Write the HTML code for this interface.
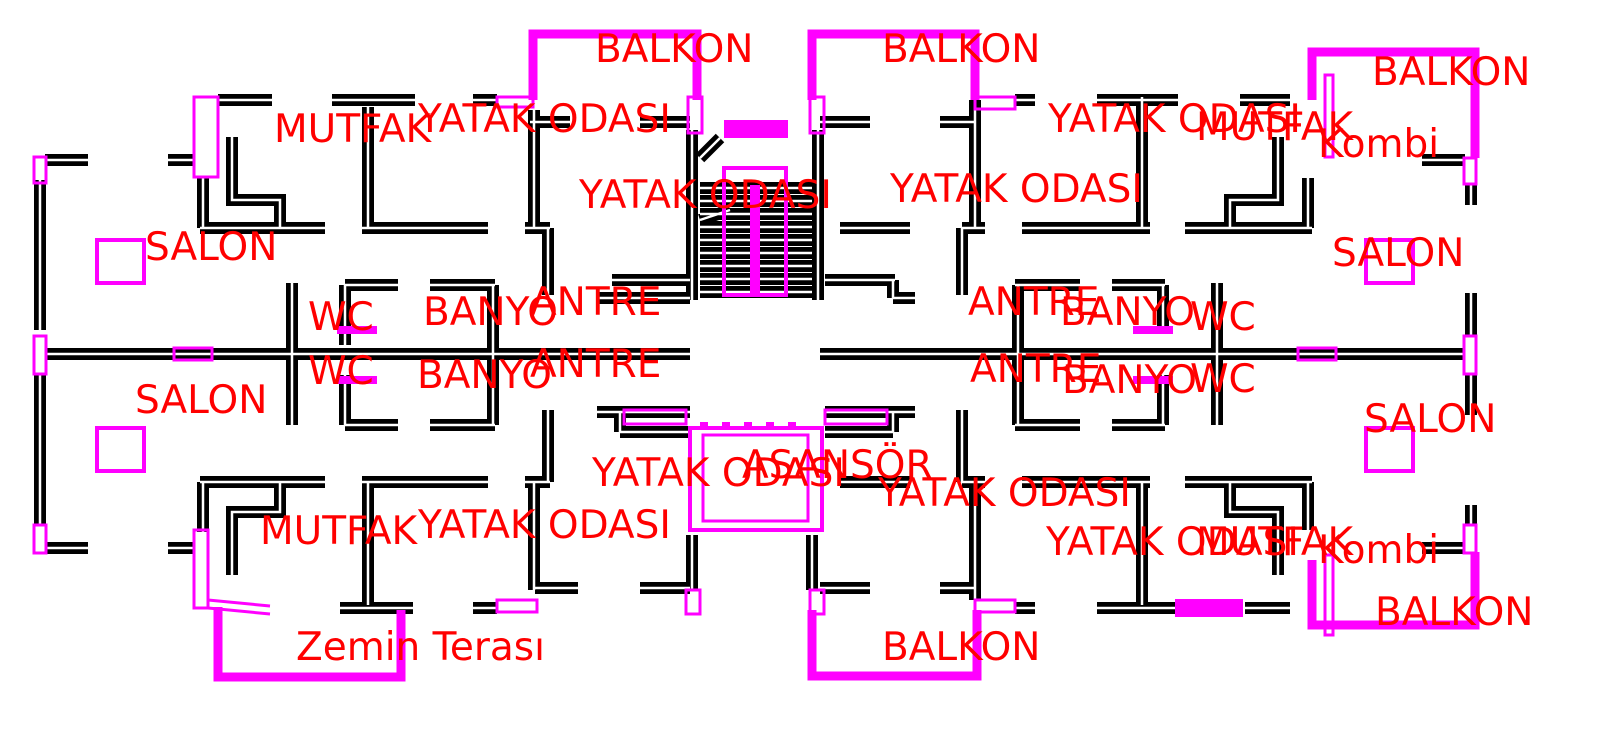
<!DOCTYPE html>
<html><head><meta charset="utf-8"><style>
html,body{margin:0;padding:0;background:#fff;}
svg{display:block;}
text{font-family:"DejaVu Sans","Liberation Sans",sans-serif;font-size:39px;fill:#ff0000;}
</style></head><body>
<svg width="1607" height="730" viewBox="0 0 1607 730">
<defs>
<path id="walls" fill="none" d="
M40,180V330 M40,375V525
M45,354H690 M820,354H1465
M200,228H325 M362,228H488 M525,228H550 M840,228H910 M962,228H985 M1022,228H1150 M1185,228H1312
M200,482H325 M362,482H488 M525,482H550 M840,482H910 M962,482H985 M1022,482H1150 M1185,482H1312
M292,283V425 M1217,283V425
M203,178V228 M203,482V532 M1308,178V228 M1308,482V530
M368,107V228 M368,482V605 M1142,97V228 M1142,482V605
M534,110V228 M534,482V590 M975,100V228 M975,482V600
M548,228V295 M548,410V482 M962,228V295 M962,410V482
M218,100H272 M332,100H415 M473,100H497 M1015,100H1035 M1097,100H1178 M1240,100H1290
M45,160H88 M168,160H195 M1422,160H1465
M45,548H88 M168,548H195 M1422,548H1465
M340,608H413 M473,608H497 M1015,608H1035 M1097,608H1175 M1245,608H1290
M345,285H398 M430,285H495 M345,285V345 M493,285V354 M345,425H398 M430,425H495 M345,375V425 M493,354V425
M1015,285H1080 M1112,285H1165 M1018,285V425 M1163,285V330 M1015,425H1080 M1112,425H1165 M1163,375V425
M612,280H690 M825,280H895 M893,280V298 M893,298H915 M597,298H690
M597,412H690 M620,412V432 M620,432H690 M825,412H915 M825,432H893 M893,412V432
M692,130V300 M818,130V300 M692,535V590 M812,535V590
M530,122H570 M640,122H690 M820,122H870 M940,122H975
M535,588H578 M640,588H690 M820,588H870 M940,588H975
M232,137V200H280V228 M232,575V512H280V482 M1278,137V200H1230V228 M1278,575V512H1230V482
M1471,185V205 M1471,293V335 M1471,375V415 M1471,505V525
M700,188H812 M700,201H812 M700,214H812 M700,227H812 M700,240H812 M700,253H812 M700,266H812 M700,279H812 M700,292H812
M700,158L720,138 M700,220L730,210"/>
</defs>
<g>
<use href="#walls" stroke="#000" stroke-width="12"/>
<use href="#walls" stroke="#fff" stroke-width="2.5"/>
</g>
<g fill="none" stroke="#ff00ff">
<path d="M533,100V34H697V100" stroke-width="9"/>
<path d="M812,100V34H975V100" stroke-width="9"/>
<path d="M1312,100V52H1475V158" stroke-width="9"/>
<path d="M812,610V676H977V610" stroke-width="9"/>
<path d="M218,607V677H401V610" stroke-width="9"/>
<path d="M1312,560V625H1475V552" stroke-width="9"/>
<rect x="97" y="240" width="47" height="43" stroke-width="4"/>
<rect x="97" y="428" width="47" height="43" stroke-width="4"/>
<rect x="1366" y="240" width="47" height="43" stroke-width="4"/>
<rect x="1366" y="428" width="47" height="43" stroke-width="4"/>
<rect x="690" y="428" width="132" height="102" stroke-width="4"/>
<rect x="703" y="435" width="105" height="86" stroke-width="3"/>
<rect x="724" y="168" width="62" height="127" stroke-width="4"/>
<line x1="755" y1="185" x2="755" y2="295" stroke-width="10"/>
<line x1="724" y1="129" x2="788" y2="129" stroke-width="18"/>
<line x1="1175" y1="608" x2="1243" y2="608" stroke-width="18"/>
<rect x="194" y="97" width="24" height="80" stroke-width="3"/>
<rect x="34" y="157" width="12" height="26" stroke-width="3"/>
<rect x="34" y="336" width="12" height="38" stroke-width="3"/>
<rect x="34" y="525" width="12" height="28" stroke-width="3"/>
<rect x="174" y="348" width="38" height="12" stroke-width="3"/>
<rect x="1298" y="348" width="38" height="12" stroke-width="3"/>
<rect x="1464" y="336" width="12" height="38" stroke-width="3"/>
<rect x="1464" y="158" width="12" height="26" stroke-width="3"/>
<rect x="1464" y="525" width="12" height="28" stroke-width="3"/>
<rect x="1325" y="75" width="8" height="82" stroke-width="3"/>
<rect x="1325" y="555" width="8" height="80" stroke-width="3"/>
<rect x="688" y="97" width="14" height="36" stroke-width="3"/>
<rect x="810" y="97" width="14" height="36" stroke-width="3"/>
<rect x="686" y="590" width="14" height="24" stroke-width="3"/>
<rect x="810" y="590" width="14" height="24" stroke-width="3"/>
<rect x="497" y="97" width="36" height="10" stroke-width="3"/>
<rect x="975" y="97" width="40" height="12" stroke-width="3"/>
<rect x="497" y="600" width="40" height="12" stroke-width="3"/>
<rect x="975" y="600" width="40" height="12" stroke-width="3"/>
<rect x="624" y="410" width="62" height="14" stroke-width="3"/>
<rect x="825" y="410" width="62" height="14" stroke-width="3"/>
<rect x="194" y="530" width="14" height="78" stroke-width="3"/>
<path d="M208,600L270,606M208,608L270,614" stroke-width="3"/>
<line x1="337" y1="330" x2="377" y2="330" stroke-width="8"/>
<line x1="337" y1="380" x2="377" y2="380" stroke-width="8"/>
<line x1="1133" y1="330" x2="1173" y2="330" stroke-width="8"/>
<line x1="1133" y1="380" x2="1173" y2="380" stroke-width="8"/>
<path d="M700,425H810" stroke-width="6" stroke-dasharray="8 14"/>
</g>
<g>
<text x="595" y="62">BALKON</text><text x="882" y="62">BALKON</text><text x="1372" y="85">BALKON</text>
<text x="882" y="660">BALKON</text><text x="1375" y="625">BALKON</text>
<text x="274" y="142">MUTFAK</text><text x="418" y="132">YATAK ODASI</text>
<text x="1048" y="132">YATAK ODASI</text><text x="1196" y="140">MUTFAK</text><text x="1318" y="157">Kombi</text>
<text x="579" y="208">YATAK ODASI</text><text x="890" y="202">YATAK ODASI</text>
<text x="145" y="260">SALON</text><text x="1332" y="266">SALON</text>
<text x="308" y="330">WC</text><text x="423" y="325">BANYO</text><text x="530" y="315">ANTRE</text>
<text x="968" y="315">ANTRE</text><text x="1060" y="325">BANYO</text><text x="1190" y="330">WC</text>
<text x="308" y="384">WC</text><text x="417" y="388">BANYO</text><text x="530" y="377">ANTRE</text>
<text x="970" y="382">ANTRE</text><text x="1062" y="393">BANYO</text><text x="1190" y="392">WC</text>
<text x="135" y="413">SALON</text><text x="1364" y="432">SALON</text>
<text x="592" y="486">YATAK ODASI</text><text x="742" y="478">ASANSÖR</text><text x="878" y="506">YATAK ODASI</text>
<text x="260" y="544">MUTFAK</text><text x="418" y="538">YATAK ODASI</text>
<text x="1046" y="555">YATAK ODASI</text><text x="1196" y="555">MUTFAK</text><text x="1318" y="563">Kombi</text>
<text x="296" y="660">Zemin Terası</text>
</g>
</svg>
</body></html>
